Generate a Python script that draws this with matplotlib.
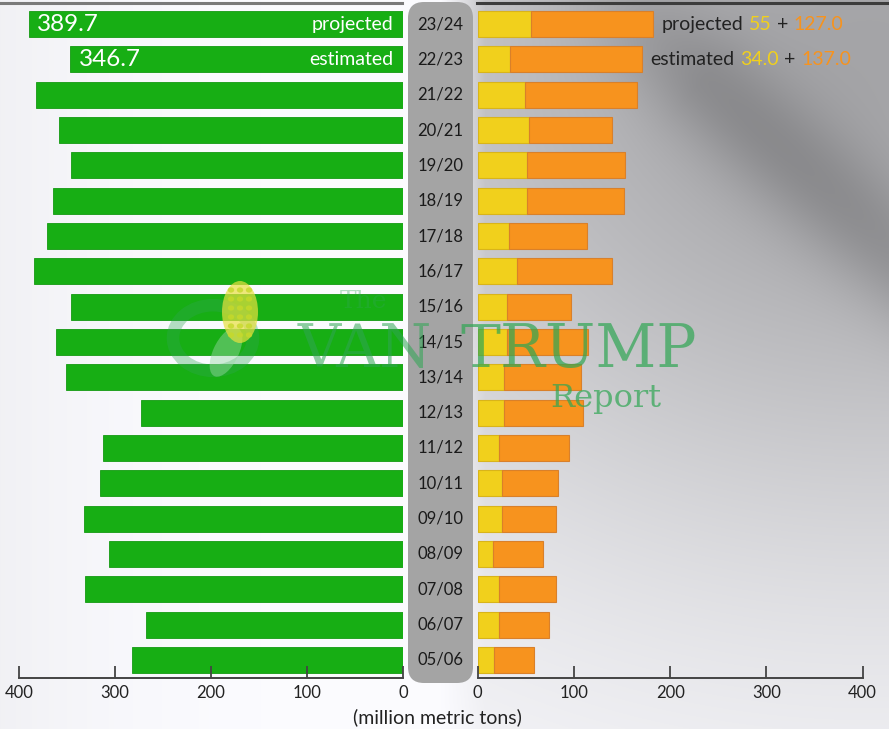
import numpy as np
import matplotlib.pyplot as plt
from matplotlib.patches import FancyBboxPatch, Circle, Ellipse
from matplotlib.transforms import blended_transform_factory

plt.rcParams['font.family'] = ['Lato', 'DejaVu Sans']

# marketing years, bottom row first
years = ['05/06', '06/07', '07/08', '08/09', '09/10', '10/11', '11/12', '12/13',
         '13/14', '14/15', '15/16', '16/17', '17/18', '18/19', '19/20', '20/21',
         '21/22', '22/23', '23/24']
production = [282.3, 267.5, 331.2, 305.9, 332.5, 315.6, 312.8, 273.2, 351.3, 361.1,
              345.5, 384.8, 371.1, 364.3, 345.9, 358.4, 382.0, 346.7, 389.7]
part_a = [17.0, 22.0, 22.0, 15.6, 25.6, 25.6, 22.0, 27.0, 27.0, 30.5,
          30.5, 41.0, 32.0, 51.0, 51.0, 53.0, 49.0, 34.0, 55.0]
part_b = [41.5, 52.0, 59.5, 52.0, 56.0, 57.5, 73.0, 82.0, 80.0, 84.0,
          66.5, 99.0, 82.0, 101.0, 102.0, 87.0, 117.0, 137.0, 127.0]
row_tags = {18: 'projected', 17: 'estimated'}
a_labels = {18: '55', 17: '34.0'}
b_labels = {18: '127.0', 17: '137.0'}
ticks = [0, 100, 200, 300, 400]

GREEN = '#17ae14'
YELLOW = '#f1d01c'
ORANGE = '#f7931e'
W, H = 889, 729

fig = plt.figure(figsize=(W / 100, H / 100), dpi=100)

# metallic backdrop: darker toward the upper right with a diagonal streak
yy, xx = np.mgrid[0:H, 0:W].astype(float)
bg = 0.985 - 0.04 * np.clip(1 - xx / 300, 0, 1) ** 2
glow = np.exp(-(((xx - 870) / 430.0) ** 2 + ((yy - 60) / 360.0) ** 2) / 2)
right = np.clip((xx - 440) / 45, 0, 1)
bg = bg - 0.34 * glow * right
u = np.array([186.0, 167.0]) / np.hypot(186, 167)
d = -(xx - 703) * u[1] + (yy - 80) * u[0]
s = (xx - 703) * u[0] + (yy - 80) * u[1]
streak = np.exp(-(d / 55.0) ** 2) * np.clip((s + 200) / 200, 0, 1)
bg = bg - 0.12 * streak * right
bg = np.clip(bg, 0, 1)
bg_img = np.dstack([bg, bg, bg * 1.01 + 0.005]).clip(0, 1)
ax_bg = fig.add_axes([0, 0, 1, 1], zorder=-5)
ax_bg.imshow(bg_img, aspect='auto', extent=(0, W, H, 0))
ax_bg.set_axis_off()

# centre band holding the year labels
band = FancyBboxPatch((408 / W, (H - 683) / H), 65 / W, 681 / H,
                      boxstyle='round,pad=0,rounding_size=0.018',
                      transform=fig.transFigure, facecolor='#a4a4a4',
                      edgecolor='none', zorder=0, mutation_aspect=W / H)
fig.patches.append(band)

# top rules
fig.add_artist(plt.Line2D([0, 402 / W], [1 - 2.5 / H] * 2, transform=fig.transFigure,
                          color='#7a7a7a', lw=2.2))
fig.add_artist(plt.Line2D([477 / W, 1], [1 - 2.5 / H] * 2, transform=fig.transFigure,
                          color='#3c3c3c', lw=2.2))

bottom = (H - 678) / H
height = 678 / H
ax_l = fig.add_axes([19 / W, bottom, 384 / W, height])
ax_r = fig.add_axes([477.7 / W, bottom, 385 / W, height])

y = np.arange(len(years))
bh = 0.74

ax_l.barh(y, production, height=bh, color=GREEN, edgecolor='#149a12', lw=0.6)
ax_r.barh(y, part_a, height=bh, color=YELLOW, edgecolor='#d9b41a', lw=0.8)
ax_r.barh(y, part_b, left=part_a, height=bh, color=ORANGE, edgecolor='#d9802a', lw=0.8)

for ax in (ax_l, ax_r):
    ax.set_ylim(-0.51, len(years) - 1 + 0.68)
    ax.set_xlim(0, 400)
    ax.set_facecolor('none')
    for side in ('top', 'left', 'right'):
        ax.spines[side].set_visible(False)
    ax.spines['bottom'].set_color('#444444')
    ax.spines['bottom'].set_linewidth(1.4)
    ax.set_yticks([])
    ax.set_xticks(ticks)
    ax.tick_params(axis='x', direction='in', length=9, width=1.3, color='#444444',
                   labelsize=12, labelcolor='#222222', pad=5)
ax_l.invert_xaxis()

# value and status tags on the latest two rows
for i, tag in row_tags.items():
    ax_l.annotate(f'{production[i]:.1f}', xy=(production[i], i), xytext=(6, 0),
                  textcoords='offset points', ha='left', va='center',
                  color='white', fontsize=17.5)
    ax_l.annotate(tag, xy=(0, i), xytext=(-7, 0), textcoords='offset points',
                  ha='right', va='center', color='white', fontsize=14)
    t = ax_r.annotate(tag, xy=(part_a[i] + part_b[i], i), xytext=(6, 0),
                      textcoords='offset points', ha='left', va='center',
                      color='#222222', fontsize=14)
    for txt, col in ((a_labels[i], YELLOW), ('+', '#222222'), (b_labels[i], ORANGE)):
        t = ax_r.annotate(txt, xy=(1, 0), xycoords=t, xytext=(4, 0),
                          textcoords='offset points', ha='left', va='bottom',
                          color=col, fontsize=14)

# year labels
trans = blended_transform_factory(fig.transFigure, ax_r.transData)
for i, yr in enumerate(years):
    fig.text(440.5 / W, i, yr, transform=trans, ha='center', va='center',
             fontsize=12, color='#1a1a1a', zorder=3)

fig.text(437 / W, (H - 717) / H, '(million metric tons)', ha='center', va='center',
         fontsize=14, color='#222222')

# watermark
wm = '#2fa653'
fig.add_artist(Circle((213 / W, (H - 338) / H), 40 / W, transform=fig.transFigure,
                      facecolor='none', edgecolor=wm, lw=9, alpha=0.35, zorder=6))
fig.add_artist(Ellipse((226 / W, (H - 352) / H), 26 / W, 52 / H, angle=-20,
                       transform=fig.transFigure, facecolor='#9ad8a6', alpha=0.45,
                       edgecolor='none', zorder=6))
fig.add_artist(Ellipse((240 / W, (H - 312) / H), 36 / W, 62 / H,
                       transform=fig.transFigure, facecolor='#e8e040', alpha=0.7,
                       edgecolor='none', zorder=6))
for cx in (231, 240, 249):
    for cy in range(290, 338, 9):
        fig.add_artist(Circle((cx / W, (H - cy) / H), 3.2 / W, transform=fig.transFigure,
                              facecolor='#c6d92a', alpha=0.8, edgecolor='none', zorder=7))
fig.text(298 / W, (H - 350) / H, 'VAN', fontsize=43, family='DejaVu Serif',
         color=wm, alpha=0.55, ha='left', va='center', zorder=6)
fig.text(460 / W, (H - 350) / H, 'TRUMP', fontsize=43, family='DejaVu Serif',
         color=wm, alpha=0.7, ha='left', va='center', zorder=6)
fig.text(340 / W, (H - 302) / H, 'The', fontsize=18, family='DejaVu Serif',
         color=wm, alpha=0.35, ha='left', va='center', zorder=6)
fig.text(550 / W, (H - 398) / H, 'Report', fontsize=23, family='DejaVu Serif',
         color=wm, alpha=0.7, ha='left', va='center', zorder=6)

fig.savefig('out.png', dpi=100)
